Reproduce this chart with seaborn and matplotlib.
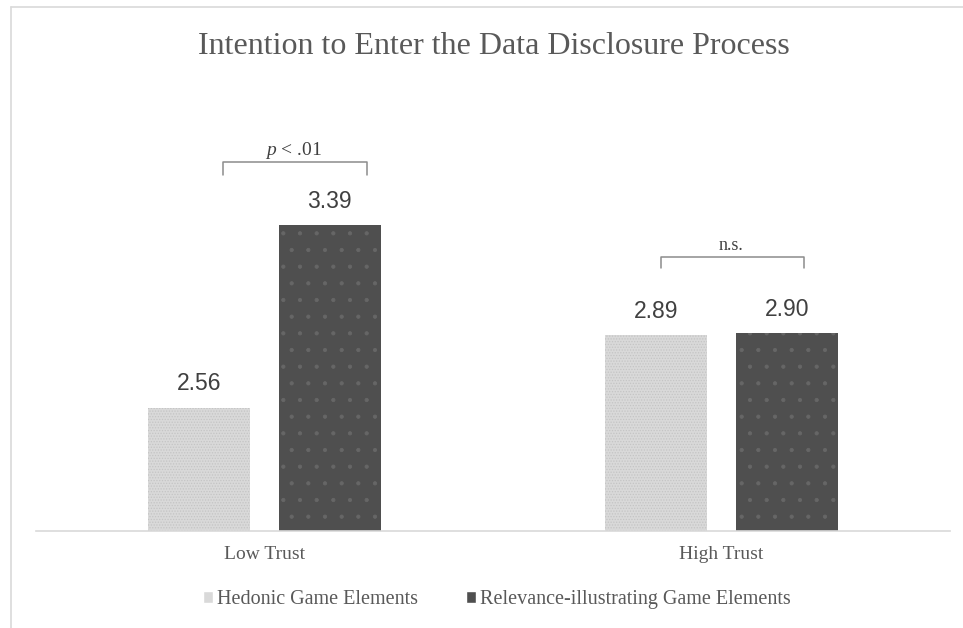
import numpy as np
import pandas as pd
import matplotlib
matplotlib.use("Agg")
import matplotlib.pyplot as plt
from matplotlib.lines import Line2D
import seaborn as sns

# ---------------------------------------------------------------
# Data
# ---------------------------------------------------------------
trust_levels = ["Low Trust", "High Trust"]
conditions = ["Hedonic Game Elements", "Relevance-illustrating Game Elements"]
hedonic = [2.56, 2.89]
relevance = [3.39, 2.90]
sig_labels = ["p < .01", "n.s."]

df = pd.DataFrame({
    "trust": trust_levels * 2,
    "condition": [conditions[0]] * 2 + [conditions[1]] * 2,
    "value": hedonic + relevance,
})

# ---------------------------------------------------------------
# Style
# ---------------------------------------------------------------
sns.set_theme(style="white")
plt.rcParams["font.family"] = ["Liberation Serif", "DejaVu Serif"]
plt.rcParams["mathtext.fontset"] = "custom"
plt.rcParams["mathtext.it"] = "Liberation Serif:italic"
plt.rcParams["mathtext.rm"] = "Liberation Serif"
plt.rcParams["hatch.linewidth"] = 0.6
text_grey = "#595959"
light = "#d9d9d9"
dark = "#4f4f4f"

fig = plt.figure(figsize=(9.63, 6.28), dpi=100)
ax = fig.add_axes([36 / 963, 97 / 628, 914 / 963, 440 / 628])

sns.barplot(data=df, x="trust", y="value", hue="condition",
            palette=[light, dark], width=0.572, gap=0.22,
            saturation=1, ax=ax)

# dotted fill like the original
for cont, hatch, hcol in zip(ax.containers, ["......", "."], ["#c4c4c4", "#666666"]):
    for bar in cont:
        bar.set_hatch(hatch)
        bar.set_edgecolor(hcol)
        bar.set_linewidth(0)

for cont in ax.containers:
    ax.bar_label(cont, fmt="%.2f", padding=9, fontsize=16.5,
                 family="Liberation Sans", color="#404040")

ax.set_xlim(-0.5, 1.5)
ax.set_ylim(2.0, 4.0)
ax.set_xlabel("")
ax.set_ylabel("")
ax.set_yticks([])
ax.tick_params(axis="x", length=0, pad=11, labelsize=14, labelcolor=text_grey)
for s in ["left", "right", "top"]:
    ax.spines[s].set_visible(False)
ax.spines["bottom"].set_color("#d9d9d9")
ax.spines["bottom"].set_linewidth(1.2)

# significance brackets
brackets = [(-0.090, 0.225, 3.677, 3.618), (0.868, 1.181, 3.245, 3.195)]
for (x0, x1, ytop, yend), lab in zip(brackets, sig_labels):
    ax.plot([x0, x0, x1, x1], [yend, ytop, ytop, yend], color="#8c8c8c", lw=1.1)
    xm = (x0 + x1) / 2
    if lab.startswith("p"):
        ax.text(xm - 0.005, ytop + 0.032, r"$p$" + " < .01", ha="center", va="baseline",
                fontsize=14, color="#404040")
    else:
        ax.text(xm - 0.003, ytop + 0.032, lab, ha="center", va="baseline",
                fontsize=13, color="#404040")

# legend at the bottom
handles, labels = ax.get_legend_handles_labels()
ax.get_legend().remove()
fig.legend(handles, labels, loc="center", bbox_to_anchor=(0.516, 0.045), ncol=2,
           frameon=False, handlelength=0.5, handleheight=0.5, handletextpad=0.2,
           columnspacing=2.4, prop={"size": 14.5}, labelcolor=text_grey)

fig.text(0.5125, 1 - 47 / 628, "Intention to Enter the Data Disclosure Process",
         ha="center", va="center", fontsize=23, color=text_grey)

# outer chart frame
fx = 11 / 963
fy = 1 - 7 / 628
fig.add_artist(Line2D([fx, fx], [0, fy], transform=fig.transFigure, color="#d9d9d9", lw=1.2))
fig.add_artist(Line2D([fx, 1], [fy, fy], transform=fig.transFigure, color="#d9d9d9", lw=1.2))

fig.savefig("out.png", dpi=100, facecolor="white")
